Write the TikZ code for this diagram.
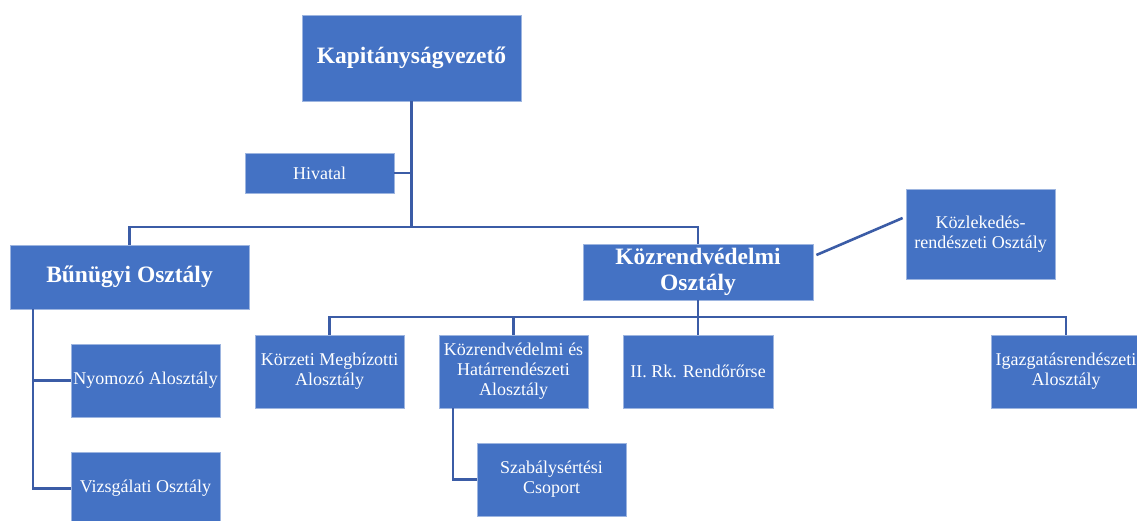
\documentclass[tikz,border=0pt]{standalone}
\usepackage{fontspec}
\setmainfont{Liberation Serif}
\definecolor{boxfill}{HTML}{4472C4}
\definecolor{boxedge}{HTML}{9DB5E0}
\definecolor{linkcol}{HTML}{3B5CA6}
\tikzset{
  unit/.style={draw=boxedge, line width=0.8pt, fill=boxfill, text=white,
    inner sep=0pt, align=center, font=\fontsize{18}{20}\selectfont},
  headunit/.style={unit, font=\bfseries\fontsize{23.5}{26.5}\selectfont},
  link/.style={draw=linkcol, line width=2.6pt},
}
\begin{document}
\begin{tikzpicture}[x=1pt, y=-1pt]
\useasboundingbox (0,0) rectangle (1137,520);

% top level
\node[headunit, minimum width=219pt, minimum height=86pt] (kap) at (411.5,58) {Kapitányságvezető};
\node[unit, minimum width=149pt, minimum height=40pt] (hiv) at (319.5,173) {Hivatal};

% departments
\node[headunit, minimum width=239pt, minimum height=64pt] (bun) at (129.5,277) {Bűnügyi Osztály};
\node[headunit, minimum width=230pt, minimum height=56pt] (koz) at (698,272) {Közrendvédelmi\\Osztály};
\node[unit, minimum width=149pt, minimum height=90pt] (kle) at (980.5,234) {Közlekedés-\\rendészeti Osztály};

% sub-units of Bűnügyi Osztály
\node[unit, minimum width=149pt, minimum height=73pt] (nyom) at (145.5,380.5) {Nyomozó Alosztály};
\node[unit, minimum width=149pt, minimum height=73pt] (vizs) at (145.5,488.5) {Vizsgálati Osztály};

% sub-units of Közrendvédelmi Osztály
\node[unit, minimum width=149pt, minimum height=73pt] (korz) at (329.5,371.5) {Körzeti Megbízotti\\Alosztály};
\node[unit, minimum width=149pt, minimum height=73pt] (kozh) at (513.5,371.5) {Közrendvédelmi és\\Határrendészeti\\Alosztály};
\node[unit, minimum width=150pt, minimum height=73pt] (rk) at (698,371.5) {II. Rk. Rendőrőrse};
\node[unit, minimum width=149pt, minimum height=73pt] (igaz) at (1066,371.5) {Igazgatásrendészeti\\Alosztály};
\node[unit, minimum width=149pt, minimum height=73pt] (szab) at (551.5,479.5) {Szabálysértési\\Csoport};

% bus levels
\coordinate (bar1) at (0,227);
\coordinate (bar2) at (0,317);

% connectors
\draw[link] (kap.south) -- (kap.south |- bar1);
\draw[link] (hiv.east) -- (hiv.east -| kap.south);
\draw[link] (bun.north) -- (bun.north |- bar1) -- (koz.north |- bar1) -- (koz.north);
\draw[link] ([shift={(3,-17)}]koz.east) -- ([shift={(-3,-16)}]kle.west);

\coordinate (bt) at ([xshift=-96.5pt]bun.south);
\draw[link] (bt) |- (vizs.west);
\draw[link] (bt |- nyom.west) -- (nyom.west);

\draw[link] (koz.south) -- (rk.north);
\draw[link] (korz.north) -- (korz.north |- bar2) -- (igaz.north |- bar2) -- (igaz.north);
\draw[link] (kozh.north) -- (kozh.north |- bar2);

\coordinate (kt) at ([xshift=-60.5pt]kozh.south);
\draw[link] (kt) |- (szab.west);
\end{tikzpicture}
\end{document}
